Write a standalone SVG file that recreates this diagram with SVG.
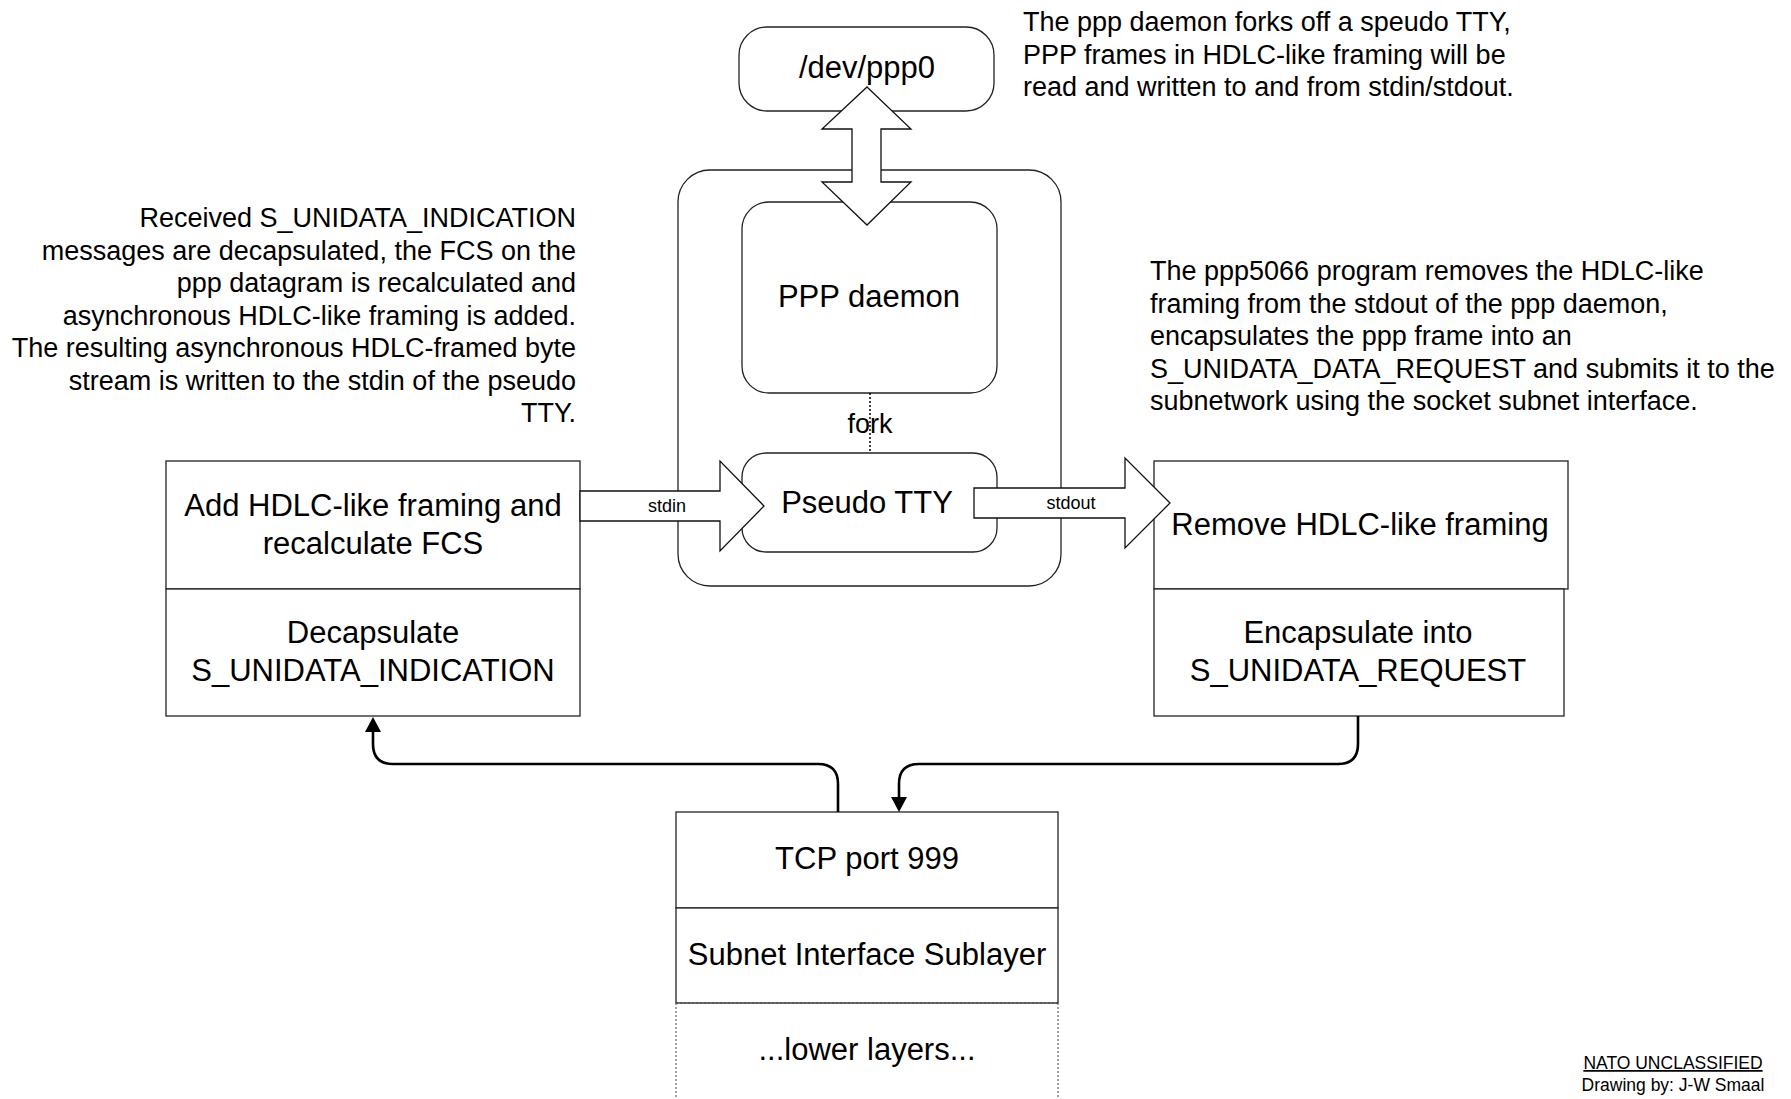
<svg xmlns="http://www.w3.org/2000/svg" width="1791" height="1099" viewBox="0 0 1791 1099">
<defs>
<style>
text{font-family:"Liberation Sans",Arial,sans-serif;fill:#000}
.box{fill:#fff;stroke:#222;stroke-width:1.3}
.blk{fill:#fff;stroke:#111;stroke-width:1.3}
.big{font-size:31px;text-anchor:middle}
.note{font-size:27px}
.lbl{font-size:18px;text-anchor:middle}
.dot{fill:none;stroke:#444;stroke-width:1;stroke-dasharray:2 2}
.conn{fill:none;stroke:#000;stroke-width:2.6}
</style>
<marker id="ah" viewBox="0 0 15 16" refX="0" refY="8" markerWidth="15" markerHeight="16" markerUnits="userSpaceOnUse" orient="auto">
<path d="M0,0 L15,8 L0,16 z" fill="#000"/>
</marker>
</defs>
<rect width="1791" height="1099" fill="#fff"/>

<g id="host">
<rect class="box" x="678" y="170" width="383" height="416" rx="32" ry="32"/>
</g>

<g id="dev-ppp0">
<rect class="box" x="739" y="27" width="255" height="84" rx="28" ry="28"/>
<text class="big" x="867" y="78">/dev/ppp0</text>
</g>

<g id="ppp-daemon">
<rect class="box" x="742" y="202" width="255" height="191" rx="27" ry="27"/>
<text class="big" x="869" y="307">PPP daemon</text>
</g>

<g id="pseudo-tty">
<rect class="box" x="742" y="453" width="255" height="99" rx="24" ry="24"/>
<text class="big" x="867" y="513">Pseudo TTY</text>
</g>

<g id="left-stack">
<rect class="box" x="166" y="461" width="414" height="128"/>
<rect class="box" x="166" y="589" width="414" height="127"/>
<text class="big" x="373" y="516">Add HDLC-like framing and</text>
<text class="big" x="373" y="554">recalculate FCS</text>
<text class="big" x="373" y="643">Decapsulate</text>
<text class="big" x="373" y="681">S_UNIDATA_INDICATION</text>
</g>

<g id="right-stack">
<rect class="box" x="1154" y="461" width="414" height="128"/>
<rect class="box" x="1154" y="589" width="410" height="127"/>
<text class="big" x="1360" y="535">Remove HDLC-like framing</text>
<text class="big" x="1358" y="643">Encapsulate into</text>
<text class="big" x="1358" y="681">S_UNIDATA_REQUEST</text>
</g>

<g id="subnet-stack">
<rect class="box" x="676" y="812" width="382" height="96"/>
<rect class="box" x="676" y="908" width="382" height="95"/>
<path class="dot" d="M676,1003 V1099 M1058,1003 V1099 M676,1003 H1058"/>
<text class="big" x="867" y="869">TCP port 999</text>
<text class="big" x="867" y="965">Subnet Interface Sublayer</text>
<text class="big" x="867" y="1060">...lower layers...</text>
</g>

<g id="connectors">
<path class="dot" d="M870,393 V453" style="stroke:#000;stroke-width:1.5"/>
<text class="note" x="870" y="433" text-anchor="middle">fork</text>
<polygon id="ppp0-arrow" class="blk" points="867,87 911,129 881,129 881,182 911,182 867,225 822,182 852,182 852,129 822,129"/>
<polygon id="stdin-arrow" class="blk" points="580,491 720,491 720,461 764,506 720,551 720,521 580,521"/>
<text class="lbl" x="667" y="512">stdin</text>
<polygon id="stdout-arrow" class="blk" points="974,488 1125,488 1125,458 1170,503 1125,548 1125,518 974,518"/>
<text class="lbl" x="1071" y="509">stdout</text>
<path class="conn" d="M838,812 V784 Q838,764 818,764 H393 Q373,764 373,744 V732" marker-end="url(#ah)"/>
<path class="conn" d="M1358,716 V744 Q1358,764 1338,764 H919 Q899,764 899,784 V797" marker-end="url(#ah)"/>
</g>

<g id="notes">
<text class="note" x="1023" y="31">The ppp daemon forks off a speudo TTY,</text>
<text class="note" x="1023" y="63.5">PPP frames in HDLC-like framing will be</text>
<text class="note" x="1023" y="96">read and written to and from stdin/stdout.</text>

<g text-anchor="end">
<text class="note" x="576" y="227">Received S_UNIDATA_INDICATION</text>
<text class="note" x="576" y="259.5">messages are decapsulated, the FCS on the</text>
<text class="note" x="576" y="292">ppp datagram is recalculated and</text>
<text class="note" x="576" y="324.5">asynchronous HDLC-like framing is added.</text>
<text class="note" x="576" y="357">The resulting asynchronous HDLC-framed byte</text>
<text class="note" x="576" y="389.5">stream is written to the stdin of the pseudo</text>
<text class="note" x="576" y="422">TTY.</text>
</g>

<text class="note" x="1150" y="280">The ppp5066 program removes the HDLC-like</text>
<text class="note" x="1150" y="312.5">framing from the stdout of the ppp daemon,</text>
<text class="note" x="1150" y="345">encapsulates the ppp frame into an</text>
<text class="note" x="1150" y="377.5">S_UNIDATA_DATA_REQUEST and submits it to the</text>
<text class="note" x="1150" y="410">subnetwork using the socket subnet interface.</text>

<text x="1673" y="1069" font-size="17.5px" text-anchor="middle" text-decoration="underline">NATO UNCLASSIFIED</text>
<text x="1673" y="1091" font-size="17.5px" text-anchor="middle">Drawing by: J-W Smaal</text>
</g>
</svg>
